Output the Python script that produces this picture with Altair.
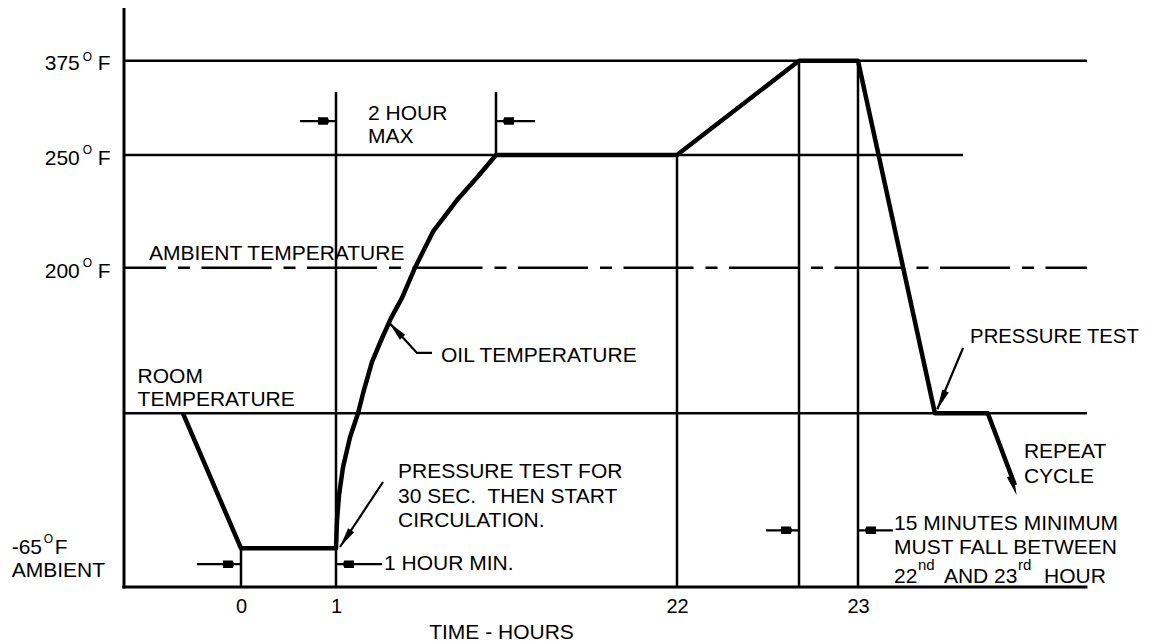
import altair as alt
import pandas as pd

FONT = "Liberation Sans"

# ---------------- data (schematic hours, degrees F) ----------------
X_TICKS = [0, 1, 22, 23]

# oil temperature profile
OIL_HOURS = [-0.61, 0.0, 1.0, 1.0125, 1.0375, 1.0875, 1.175, 1.275, 1.35, 1.45,
             1.5625, 1.6875, 1.825, 1.9875, 2.2125, 2.5125, 2.7625, 3.0,
             22.0, 22.75, 23.0, 23.326, 23.55, 23.665]
OIL_TEMPS = [70, -65, -65, -37, -12, 16, 46, 70, 91, 116,
             135, 155, 173, 200, 216, 230, 240, 250,
             250, 375, 375, 70, 70, -2]

# horizontal reference levels (375 F, 250 F, room temperature)
REF_TEMPS = [375, 250, 70]
REF_FROM = [-1.23, -1.23, -1.23]
REF_TO = [23.97, 23.445, 23.97]

# ambient temperature (dash-dot)
AMB_TEMPS = [200]
AMB_FROM = [-1.23]
AMB_TO = [23.97]

# vertical time markers
VERT_HOURS = [0, 1, 3, 22, 22.75, 23]
VERT_LOW = [-104, -104, 250, -104, -104, -104]
VERT_HIGH = [-65, 333.5, 333.5, 250, 375, 375]

# frame axes
YAXIS_HOUR = [-1.23]
YAXIS_LOW = [-104]
YAXIS_HIGH = [443]
XAXIS_TEMP = [-104]
XAXIS_FROM = [-1.23]
XAXIS_TO = [23.966]

# dimension arrows
DIM_TEMPS = [295, 295, -81, -81, -47, -47]
DIM_TIPS = [1, 3, 0, 1, 22.75, 23]
DIM_TAILS = [0.621, 7.09, -0.463, 1.575, 22.547, 23.148]

# leader lines
LEADER_IDS = ["oil", "oil", "oil", "pt1", "pt1", "pt2", "pt2"]
LEADER_HOURS = [2.2, 2.0125, 1.6625, 1.5875, 1.05, 23.445, 23.336]
LEADER_TEMPS = [123.9, 123.9, 151, 1.3, -63.7, 128.3, 73.6]

# arrow heads
ARROW_HOURS = [1.6625, 1.05, 23.336, 23.672]
ARROW_TEMPS = [151, -63.7, 73.6, -11.7]
ARROW_ANGLES = [317.4, 213.7, 204.4, 161.5]

# annotation texts (left aligned)
TEXT_LABELS = ["ROOM", "TEMPERATURE", "AMBIENT TEMPERATURE", "2 HOUR", "MAX",
               "OIL TEMPERATURE", "PRESSURE TEST FOR", "30 SEC.\u00a0 THEN START",
               "CIRCULATION.", "1 HOUR MIN.", "REPEAT", "CYCLE",
               "15 MINUTES MINIMUM", "MUST FALL BETWEEN", "22", "AND 23", "HOUR",
               "-65", "F", "AMBIENT", "F", "F", "F"]
TEXT_HOURS = [-1.087, -1.087, -0.968, 1.4, 1.4,
              2.3125, 1.775, 1.775,
              1.775, 1.6, 23.703, 23.703,
              23.153, 23.153, 23.153, 23.364, 23.788,
              -2.411, -1.958, -2.411, -1.505, -1.505, -1.505]
TEXT_TEMPS = [103.8, 82.8, 206.7, 306.3, 276.5,
              122.5, 12.8, -11.7,
              -36.2, -79.2, 32.8, 7.8,
              -39.2, -62.7, -92.2, -92.2, -92.2,
              -62.7, -62.7, -86.7, 372.0, 248.9, 197.1]

# right-hand note near the page edge
EDGE_LABELS = ["PRESSURE TEST"]
EDGE_HOURS = [23.475]
EDGE_TEMPS = [139.9]

# level numbers (right aligned)
NUM_LABELS = ["375", "250", "200"]
NUM_HOURS = [-1.695, -1.695, -1.695]
NUM_TEMPS = [372.0, 248.9, 197.1]

# degree superscripts
DEG_LABELS = ["O", "O", "O", "O"]
DEG_HOURS = [-1.663, -1.663, -1.663, -2.074]
DEG_TEMPS = [380.3, 257.3, 202.3, -55.2]

# ordinal superscripts
ORD_LABELS = ["nd", "rd"]
ORD_HOURS = [23.254, 23.678]
ORD_TEMPS = [-80.5, -80.5]

# ---------------- tables ----------------
oil = pd.DataFrame({"hour": OIL_HOURS, "temp": OIL_TEMPS, "seq": range(len(OIL_HOURS))})
refs = pd.DataFrame({"temp": REF_TEMPS, "x0": REF_FROM, "x1": REF_TO})
amb = pd.DataFrame({"temp": AMB_TEMPS, "x0": AMB_FROM, "x1": AMB_TO})
verts = pd.DataFrame({"hour": VERT_HOURS, "lo": VERT_LOW, "hi": VERT_HIGH})
yax = pd.DataFrame({"hour": YAXIS_HOUR, "lo": YAXIS_LOW, "hi": YAXIS_HIGH})
xax = pd.DataFrame({"temp": XAXIS_TEMP, "x0": XAXIS_FROM, "x1": XAXIS_TO})
dims = pd.DataFrame({"temp": DIM_TEMPS, "tip": DIM_TIPS, "tail": DIM_TAILS})
dims["dir"] = ["right" if t < p else "left" for t, p in zip(DIM_TAILS, DIM_TIPS)]
leaders = pd.DataFrame({"id": LEADER_IDS, "hour": LEADER_HOURS, "temp": LEADER_TEMPS,
                        "seq": range(len(LEADER_IDS))})
heads = pd.DataFrame({"hour": ARROW_HOURS, "temp": ARROW_TEMPS, "angle": ARROW_ANGLES})
texts = pd.DataFrame({"label": TEXT_LABELS, "hour": TEXT_HOURS, "temp": TEXT_TEMPS})
edge = pd.DataFrame({"label": EDGE_LABELS, "hour": EDGE_HOURS, "temp": EDGE_TEMPS})
nums = pd.DataFrame({"label": NUM_LABELS, "hour": NUM_HOURS, "temp": NUM_TEMPS})
degs = pd.DataFrame({"label": DEG_LABELS, "hour": DEG_HOURS, "temp": DEG_TEMPS})
ords = pd.DataFrame({"label": ORD_LABELS, "hour": ORD_HOURS, "temp": ORD_TEMPS})

# ---------------- scales (schematic, piecewise) ----------------
x_scale = alt.Scale(domain=[-1.23, 0, 1, 3, 22, 22.75, 23, 24],
                    range=[0, 117, 212, 372, 553, 675, 734, 970],
                    nice=False, zero=False)
y_scale = alt.Scale(domain=[-104, -65, 70, 200, 250, 375, 443],
                    range=[578, 539.3, 404.3, 258.7, 146, 51.7, 0.3],
                    nice=False, zero=False)

x_axis = alt.Axis(values=X_TICKS, format="d", domain=False, ticks=False, grid=False,
                  labelFont=FONT, labelFontSize=20, labelColor="black", labelPadding=9,
                  labelFlush=False, labelOverlap=False,
                  title="TIME - HOURS", titleFont=FONT, titleFontSize=21,
                  titleFontWeight="normal", titleColor="black", titleX=377, titleY=51,
                  titleAlign="center", titleBaseline="alphabetic")


def X(f="hour"):
    return alt.X(f"{f}:Q", scale=x_scale, axis=x_axis)


def Y(f="temp"):
    return alt.Y(f"{f}:Q", scale=y_scale, axis=None)


BLACK = "black"
THIN = 2.5

ref_layer = alt.Chart(refs).mark_rule(color=BLACK, strokeWidth=THIN).encode(
    x=X("x0"), x2=alt.X2("x1"), y=Y("temp"))
amb_layer = alt.Chart(amb).mark_rule(color=BLACK, strokeWidth=THIN,
                                     strokeDash=[70, 12, 12, 11.5],
                                     strokeDashOffset=28).encode(
    x=X("x0"), x2=alt.X2("x1"), y=Y("temp"))
vert_layer = alt.Chart(verts).mark_rule(color=BLACK, strokeWidth=THIN).encode(
    x=X("hour"), y=Y("lo"), y2=alt.Y2("hi"))
yax_layer = alt.Chart(yax).mark_rule(color=BLACK, strokeWidth=3, strokeCap="square").encode(
    x=X("hour"), y=Y("lo"), y2=alt.Y2("hi"))
xax_layer = alt.Chart(xax).mark_rule(color=BLACK, strokeWidth=3, strokeCap="square").encode(
    x=X("x0"), x2=alt.X2("x1"), y=Y("temp"))

dim_lines = alt.Chart(dims).mark_rule(color=BLACK, strokeWidth=2.2).encode(
    x=X("tail"), x2=alt.X2("tip"), y=Y("temp"))

PATH_R = "M-1.2,-0.25 L-0.55,-0.25 L-0.45,0 L-0.55,0.25 L-1.2,0.25 Z"
PATH_L = "M1.2,-0.25 L0.55,-0.25 L0.45,0 L0.55,0.25 L1.2,0.25 Z"
dim_blobs = alt.Chart(dims).mark_point(filled=True, color=BLACK, opacity=1, size=900,
                                       strokeWidth=0).encode(
    x=X("tip"), y=Y("temp"),
    shape=alt.Shape("dir:N", scale=alt.Scale(domain=["right", "left"], range=[PATH_R, PATH_L]),
                    legend=None))

oil_layer = alt.Chart(oil).mark_line(color=BLACK, strokeWidth=4.5, strokeJoin="round").encode(
    x=X("hour"), y=Y("temp"), order=alt.Order("seq:Q"))

leader_layer = alt.Chart(leaders).mark_line(color=BLACK, strokeWidth=2.2).encode(
    x=X("hour"), y=Y("temp"), detail="id:N", order=alt.Order("seq:Q"))

PATH_HEAD = "M0,0 L-0.18,1 L0.18,1 Z"
head_layer = alt.Chart(heads).mark_point(filled=True, color=BLACK, opacity=1, size=1600,
                                         strokeWidth=0, shape=PATH_HEAD).encode(
    x=X("hour"), y=Y("temp"), angle=alt.Angle("angle:Q", scale=None))

text_layer = alt.Chart(texts).mark_text(font=FONT, fontSize=21, align="left",
                                        baseline="middle", dy=1.5, color=BLACK).encode(
    x=X("hour"), y=Y("temp"), text="label:N")
edge_layer = alt.Chart(edge).mark_text(font=FONT, fontSize=20.3, align="left",
                                       baseline="middle", dy=1.5, color=BLACK).encode(
    x=X("hour"), y=Y("temp"), text="label:N")
num_layer = alt.Chart(nums).mark_text(font=FONT, fontSize=21, align="right",
                                      baseline="middle", dy=1.5, color=BLACK).encode(
    x=X("hour"), y=Y("temp"), text="label:N")
deg_layer = alt.Chart(degs).mark_text(font=FONT, fontSize=12, align="left",
                                      baseline="middle", dy=0.5, color=BLACK).encode(
    x=X("hour"), y=Y("temp"), text="label:N")
ord_layer = alt.Chart(ords).mark_text(font=FONT, fontSize=15, align="left",
                                      baseline="middle", dy=1, color=BLACK).encode(
    x=X("hour"), y=Y("temp"), text="label:N")

chart = alt.layer(
    ref_layer, amb_layer, vert_layer, yax_layer, xax_layer,
    dim_lines, dim_blobs, oil_layer, leader_layer, head_layer,
    text_layer, edge_layer, num_layer, deg_layer, ord_layer,
).properties(
    width=963, height=578,
    padding={"left": 116, "top": 1, "right": 56, "bottom": 54},
    autosize=alt.AutoSizeParams(type="none"),
    background="white",
).configure_view(strokeWidth=0)

chart.save("out.html", embed_options={"renderer": "svg", "actions": False})
